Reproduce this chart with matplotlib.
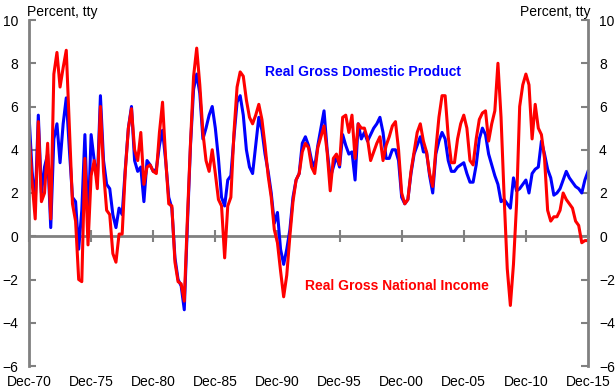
import numpy as np
import matplotlib
matplotlib.use("Agg")
import matplotlib.pyplot as plt

# quarterly, through-the-year growth, Dec-70 .. Dec-15
gdp = [5.6, 3.0, 1.5, 5.6, 2.0, 3.2, 3.8, 0.4, 4.5, 5.2,
       3.4, 5.2, 6.4, 4.0, 1.8, 1.6, -0.6, 1.2, 4.7, 0.4,
       4.7, 3.5, 2.5, 6.5, 3.5, 2.4, 2.2, 1.0, 0.4, 1.3,
       1.0, 3.1, 5.0, 6.0, 3.5, 3.0, 3.2, 1.6, 3.5, 3.3,
       3.0, 3.1, 4.2, 4.9, 3.5, 1.8, 1.3, -1.0, -2.0, -2.3,
       -3.4, 0.5, 4.2, 6.8, 7.5, 6.6, 4.5, 5.0, 5.6, 6.0,
       5.0, 3.6, 1.8, 1.4, 2.6, 2.8, 4.6, 6.2, 6.5, 5.6,
       4.0, 3.2, 2.9, 4.2, 5.5, 4.9, 3.8, 3.0, 2.0, 0.6,
       1.1, -0.6, -1.3, -0.6, 0.3, 1.8, 2.6, 2.9, 4.3, 4.6,
       4.2, 3.5, 3.2, 4.2, 5.0, 5.8, 4.0, 2.7, 3.2, 3.7,
       3.2, 4.7, 4.2, 3.8, 3.9, 2.6, 5.2, 4.5, 4.8, 4.4,
       4.7, 5.0, 5.2, 5.5, 4.8, 3.6, 3.6, 4.0, 4.0, 3.5,
       1.8, 1.5, 1.7, 2.9, 3.8, 4.2, 4.6, 3.9, 3.9, 2.8,
       2.0, 3.8, 4.4, 4.8, 4.5, 3.5, 3.0, 3.0, 3.2, 3.3,
       3.4, 2.9, 2.5, 2.5, 3.3, 4.5, 5.0, 4.7, 3.8, 3.3,
       2.8, 2.4, 1.6, 1.7, 1.5, 1.3, 2.7, 2.1, 2.2, 2.4,
       2.6, 2.0, 2.9, 3.1, 3.2, 4.4, 3.8, 3.1, 2.7, 1.9,
       2.0, 2.2, 2.6, 3.0, 2.7, 2.5, 2.3, 2.2, 2.0, 2.6,
       3.0]

gni = [4.8, 2.5, 0.8, 5.3, 1.6, 2.0, 4.3, 0.8, 7.5, 8.5,
       6.9, 7.8, 8.6, 5.0, 1.5, 0.7, -2.0, -2.1, 3.6, -0.4,
       2.8, 3.5, 2.2, 6.0, 3.0, 1.2, 1.0, -0.8, -1.2, 0.1,
       0.1, 3.0, 5.0, 5.9, 4.0, 3.5, 4.8, 2.4, 3.2, 3.3,
       3.0, 2.9, 4.8, 6.2, 3.6, 1.5, 1.4, -1.2, -2.1, -2.2,
       -3.0, 0.8, 4.3, 7.4, 8.7, 7.0, 4.8, 3.5, 3.0, 4.0,
       2.9, 1.7, 1.4, -1.0, 1.4, 1.8, 4.8, 6.9, 7.6, 7.4,
       6.3, 5.5, 5.2, 5.6, 6.1, 5.4, 4.2, 2.8, 1.8, 0.3,
       -0.3, -1.6, -2.8, -1.8, 0.0, 1.6, 2.6, 2.9, 3.9, 4.3,
       4.1, 3.2, 2.9, 4.1, 4.6, 5.1, 3.9, 2.1, 3.6, 3.8,
       3.3, 5.5, 5.6, 4.8, 5.6, 3.6, 5.2, 5.0, 5.0, 4.5,
       3.5, 3.9, 4.3, 4.6, 3.5, 4.2, 4.6, 5.1, 5.3, 4.0,
       2.0, 1.5, 1.7, 3.0, 3.9, 4.8, 5.2, 4.4, 3.9, 2.9,
       2.3, 4.0, 5.5, 6.5, 6.5, 4.6, 3.4, 3.4, 4.5, 5.2,
       5.6, 5.0, 3.5, 3.3, 4.5, 5.4, 5.7, 5.8, 4.4, 5.2,
       5.8, 8.0, 5.5, 1.8, -1.5, -3.2, -1.3, 1.5, 6.0, 7.0,
       7.5, 7.0, 4.5, 6.1, 5.0, 4.7, 3.6, 1.2, 0.7, 0.9,
       0.9, 1.2, 2.0, 1.7, 1.5, 1.3, 0.7, 0.5, -0.3, -0.2,
       -0.2]

tick_labels = ['Dec-70', 'Dec-75', 'Dec-80', 'Dec-85', 'Dec-90',
               'Dec-95', 'Dec-00', 'Dec-05', 'Dec-10', 'Dec-15']

plt.rcParams['font.family'] = ['Liberation Sans', 'DejaVu Sans']
grey = '#808080'

fig = plt.figure(figsize=(6.16, 3.92), dpi=100)
ax = fig.add_axes([29/616, 26/392, 559/616, 346/392])

q = np.arange(len(gdp))
ax.plot(q, gdp, color='#0000ff', lw=2.2, solid_joinstyle='round')
ax.plot(q, gni, color='#ff0000', lw=2.2, solid_joinstyle='round')

ax.set_xlim(0, len(gdp) - 1)
ax.set_ylim(-6, 10)
ax.set_yticks(range(-6, 11, 2))
ax.set_xticks(np.arange(0, len(gdp), 20))
ax.set_xticklabels(tick_labels)

for s in ['top', 'bottom']:
    ax.spines[s].set_visible(False)
for s in ['left', 'right']:
    ax.spines[s].set_color(grey)
    ax.spines[s].set_linewidth(2)

ax.tick_params(axis='y', direction='in', length=5, width=1.5, color=grey,
               labelsize=10, left=True, right=True, labelleft=True,
               labelright=True, pad=8)
ax.tick_params(axis='x', length=0, labelsize=10, pad=6.5)

# zero line carrying the date ticks
zero = ax.secondary_xaxis(6/16)
zero.set_xticks(np.arange(0, len(gdp), 20))
zero.set_xticklabels([])
zero.spines['bottom'].set_color(grey)
zero.spines['bottom'].set_linewidth(2)
zero.tick_params(direction='inout', length=8, width=1.5, color=grey)

fig.text(27/616, 1 - 12/392, 'Percent, tty', fontsize=10, va='center', ha='left')
fig.text(590/616, 1 - 12/392, 'Percent, tty', fontsize=10, va='center', ha='right')

ax.text(0.422, 0.849, 'Real Gross Domestic Product', transform=ax.transAxes,
        color='#0000ff', fontsize=10, fontweight='bold', va='center')
ax.text(0.494, 0.231, 'Real Gross National Income', transform=ax.transAxes,
        color='#ff0000', fontsize=10, fontweight='bold', va='center')

fig.savefig('out.png', dpi=100)
